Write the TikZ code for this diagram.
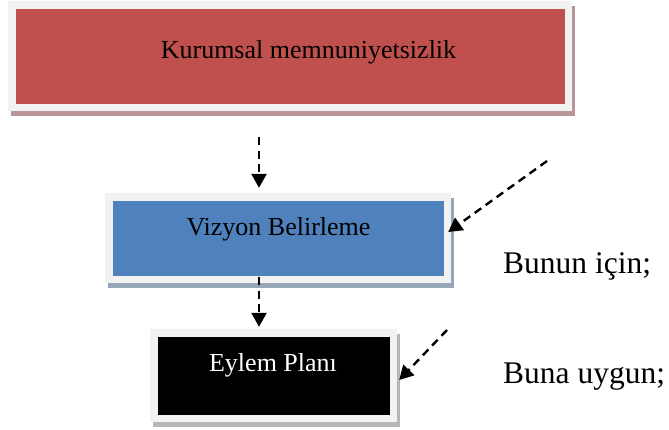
\documentclass[tikz,border=0pt]{standalone}
\usepackage{fontspec}
\setmainfont{Liberation Serif}
\usetikzlibrary{arrows.meta,shadows}

\definecolor{framegray}{HTML}{F2F2F2}
\definecolor{boxred}{HTML}{C0504D}
\definecolor{boxblue}{HTML}{4F81BD}
\definecolor{shadowred}{RGB}{186,148,150}
\definecolor{shadowblue}{RGB}{152,166,186}
\definecolor{shadowgray}{RGB}{182,182,182}

\begin{document}
\begin{tikzpicture}[x=1pt,y=-1pt,
  panel/.style 2 args={rectangle, draw=none, fill=framegray, inner sep=0pt,
    drop shadow={shadow xshift=2.5pt, shadow yshift=-4.5pt, fill=#2, opacity=1},
    path picture={\fill[#1]
      ([shift={(7.5pt,7.5pt)}]path picture bounding box.south west) rectangle
      ([shift={(-7.5pt,-7.5pt)}]path picture bounding box.north east);}},
  boxtext/.style={inner sep=0pt, anchor=base, font=\fontsize{26}{30}\selectfont},
  sidetext/.style={inner sep=0pt, anchor=base west, font=\fontsize{31.5}{36}\selectfont},
  flow/.style={line width=2.4pt, dash pattern=on 8pt off 5.5pt,
    -{Triangle[length=14pt,width=15pt]}}]

  \useasboundingbox (0,0) rectangle (669,429);

  % panels
  \node[panel={boxred}{shadowred}, minimum width=564pt, minimum height=110pt]
    (red) at (290,56) {};
  \node[panel={boxblue}{shadowblue}, minimum width=346pt, minimum height=90pt]
    (vis) at (278,238) {};
  \node[panel={black}{shadowgray}, minimum width=247pt, minimum height=93pt]
    (plan) at (273.5,375.5) {};

  % panel titles
  \node[boxtext] (redtxt) at (308.5,58) {Kurumsal memnuniyetsizlik};
  \node[boxtext] (vistxt) at (278.5,235) {Vizyon Belirleme};
  \node[boxtext, text=white] (plantxt) at (273,371) {Eylem Planı};

  % side notes
  \node[sidetext] (note1) at (503,273) {Bunun için;};
  \node[sidetext] (note2) at (503,383) {Buna uygun;};

  % connectors
  \coordinate (v1) at (259,137);
  \coordinate (v2) at (259,277);
  \coordinate (d1) at (547,161);
  \coordinate (d2) at (447,330);

  \draw[flow, shorten >=5pt] (v1) -- (v1 |- vis.north);
  \draw[flow, shorten >=2pt] (v2) -- (v2 |- plan.north);
  \draw[flow] (d1) -- ([xshift=-3pt,yshift=6pt]vis.east);
  \draw[flow] (d2) -- ([xshift=2pt,yshift=-4.5pt]plan.east);
\end{tikzpicture}
\end{document}
